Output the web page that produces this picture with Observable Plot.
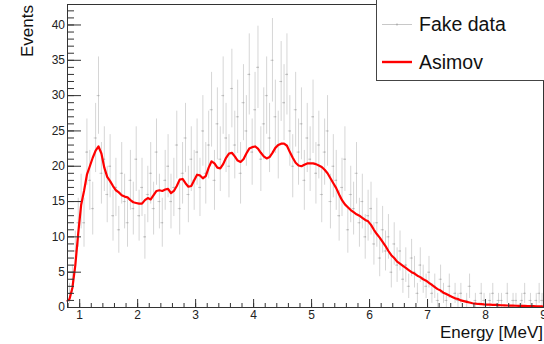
<!DOCTYPE html>
<html><head><meta charset="utf-8">
<script src="https://cdn.jsdelivr.net/npm/d3@7"></script>
<script src="https://cdn.jsdelivr.net/npm/@observablehq/plot@0.6"></script>
<style>
body{margin:0;background:#fff}
#wrap{position:relative;width:544px;height:344px;overflow:hidden;font-family:"Liberation Sans",Arial,Helvetica,sans-serif}
#overlay{position:absolute;left:0;top:0;pointer-events:none}
</style></head><body><div id="wrap"></div>
<script>
// Histogram binning (MeV)
const binStart = 0.8;
const binWidth = 0.05;

// Fake data counts per bin
const fakeData = [
  2, 4, 8, 12,
  15, 12, 22, 18, 14, 24, 30, 19, 21, 16,
  20, 13, 17, 11, 19, 15, 12, 18, 14, 21,
  13, 17, 10, 16, 19, 14, 22, 15, 12, 18,
  20, 15, 17, 23, 14, 19, 24, 16, 21, 18,
  22, 17, 25, 19, 23, 28, 18, 26, 21, 30,
  24, 20, 31, 23, 27, 19, 29, 25, 33, 22,
  28, 34, 21, 26, 30, 24, 35, 27, 23, 32,
  29, 33, 25, 20, 28, 22, 26, 18, 24, 21,
  27, 19, 23, 16, 22, 25, 15, 20, 18, 13,
  17, 21, 11, 16, 14, 19, 12, 15, 10, 13,
  14, 9, 12, 7, 11, 8, 10, 5, 9, 6,
  8, 4, 6, 3, 7, 5, 2, 6, 4, 3,
  5, 2, 3, 1, 4, 2, 1, 3, 0, 2,
  1, 2, 0, 1, 3, 0, 1, 0, 2, 1,
  0, 1, 2, 0, 1, 1, 0, 2, 0, 1,
  1, 0, 1, 2, 0, 1, 0, 1, 2, 1
];

// Asimov expectation per bin
const asimov = [
  1.2, 2.8, 6.0, 10.5,
  14.5, 16.5, 18.8, 20.0, 21.2, 22.2, 22.8, 21.8, 19.8, 18.5,
  17.9, 17.2, 16.6, 16.3, 15.9, 15.7, 15.6, 15.2, 14.9, 14.8,
  14.7, 14.7, 15.2, 15.5, 15.3, 15.9, 16.5, 16.6, 16.5, 16.7,
  16.8, 16.2, 16.5, 17.2, 18.1, 18.2, 17.6, 17.1, 17.2, 18.0,
  18.8, 18.7, 18.3, 18.6, 19.8, 20.7, 20.4, 19.8, 19.7, 20.3,
  21.2, 21.8, 21.9, 21.4, 20.8, 20.6, 21.0, 21.8, 22.5, 22.7,
  22.8, 22.5, 21.9, 21.4, 21.1, 21.3, 21.9, 22.6, 23.0, 23.2,
  23.2, 22.9, 22.0, 21.2, 20.5, 20.1, 20.0, 20.2, 20.4, 20.4,
  20.4, 20.3, 20.1, 19.9, 19.5, 19.0, 18.3, 17.6, 16.9, 16.0,
  15.2, 14.6, 14.2, 13.8, 13.5, 13.2, 13.0, 12.7, 12.4, 12.2,
  11.7, 11.0, 10.4, 9.9, 9.3, 8.7, 8.0, 7.4, 7.0, 6.5,
  6.2, 5.9, 5.6, 5.3, 5.0, 4.8, 4.5, 4.3, 4.0, 3.8,
  3.5, 3.2, 2.9, 2.6, 2.4, 2.1, 1.9, 1.7, 1.5, 1.3,
  1.2, 1.0, 0.9, 0.8, 0.7, 0.6, 0.55, 0.5, 0.47, 0.44,
  0.42, 0.40, 0.38, 0.36, 0.34, 0.32, 0.30, 0.28, 0.27, 0.26,
  0.25, 0.24, 0.23, 0.22, 0.21, 0.20, 0.19, 0.18, 0.17, 0.16
];

const xTickLabels = [1, 2, 3, 4, 5, 6, 7, 8, 9];
const yTickLabels = [0, 5, 10, 15, 20, 25, 30, 35, 40];
const xLabel = "Energy [MeV]";
const yLabel = "Events";
const seriesNames = ["Fake data", "Asimov"];

const xMinor = d3.range(0.8, 9.001, 0.2);
const yMinor = d3.range(0, 43, 1);

const dataRows = fakeData.map((n, i) => ({
  x: binStart + binWidth * (i + 0.5),
  x1: binStart + binWidth * i,
  x2: binStart + binWidth * (i + 1),
  n,
  lo: n - Math.sqrt(n),
  hi: n + Math.sqrt(n)
})).filter(d => d.n > 0);
const asimovRows = [{x: 0.79, v: asimov[0] * 0.8}].concat(asimov.map((v, i) => ({x: binStart + binWidth * (i + 0.5), v})));

const W = 544, H = 344, mL = 67, mR = 1, mT = 4, mB = 37;
const fw = W - mL - mR, fh = H - mT - mB;
const font = '"Liberation Sans",Arial,Helvetica,sans-serif';

const chart = Plot.plot({
  width: W, height: H,
  marginLeft: mL, marginRight: mR, marginTop: mT, marginBottom: mB,
  style: {fontFamily: font, fontSize: "12px", color: "#222", background: "#fff", overflow: "visible"},
  x: {domain: [0.79, 9.0]},
  y: {domain: [0, 42.9]},
  marks: [
    Plot.ruleX(dataRows, {x: "x", y1: "lo", y2: "hi", stroke: "#d6d6d6", strokeWidth: 1}),
    Plot.ruleY(dataRows, {y: "n", x1: "x1", x2: "x2", stroke: "#d2d2d2", strokeWidth: 1}),
    Plot.dot(dataRows, {x: "x", y: "n", r: 0.8, fill: "#b4b4b4", stroke: null}),
    Plot.line(asimovRows, {x: "x", y: "v", curve: "linear", stroke: "#ff0000", strokeWidth: 2.2}),
    Plot.frame({stroke: "#333", strokeWidth: 1}),
    Plot.tickX(xMinor, {x: d => d, insetTop: fh - 4, stroke: "#333"}),
    Plot.tickX(xTickLabels, {x: d => d, insetTop: fh - 8, stroke: "#333"}),
    Plot.tickY(yMinor, {y: d => d, insetRight: fw - 7, stroke: "#333"}),
    Plot.tickY(yTickLabels, {y: d => d, insetRight: fw - 14, stroke: "#333"}),
    Plot.axisX({ticks: xTickLabels, tickSize: 0, tickPadding: 3, label: null, fill: "#222"}),
    Plot.axisY({ticks: yTickLabels, tickSize: 0, tickPadding: 2.5, label: null, fill: "#222"})
  ]
});
const wrap = document.getElementById("wrap");
wrap.appendChild(chart);

// Axis titles and legend box (ROOT style)
const ns = "http://www.w3.org/2000/svg";
const ov = document.createElementNS(ns, "svg");
ov.setAttribute("id", "overlay");
ov.setAttribute("width", W);
ov.setAttribute("height", H);
ov.innerHTML = `
  <text transform="translate(33,5) rotate(-90)" text-anchor="end" font-family='${font}' font-size="17" fill="#111">${yLabel}</text>
  <text x="543" y="338" text-anchor="end" font-family='${font}' font-size="17" fill="#111">${xLabel}</text>
  <rect x="376.5" y="-2" width="180" height="82.5" fill="#fff" stroke="#444" stroke-width="1"/>
  <line x1="382" x2="412" y1="24.5" y2="24.5" stroke="#c8c8c8" stroke-width="1"/>
  <circle cx="397" cy="24.5" r="0.9" fill="#aaa"/>
  <text x="419" y="30.5" font-family='${font}' font-size="19.5" fill="#111">${seriesNames[0]}</text>
  <line x1="382" x2="412" y1="62" y2="62" stroke="#ff0000" stroke-width="2.4"/>
  <text x="419" y="68.5" font-family='${font}' font-size="19.5" fill="#111">${seriesNames[1]}</text>
`;
wrap.appendChild(ov);
</script>
</body></html>
